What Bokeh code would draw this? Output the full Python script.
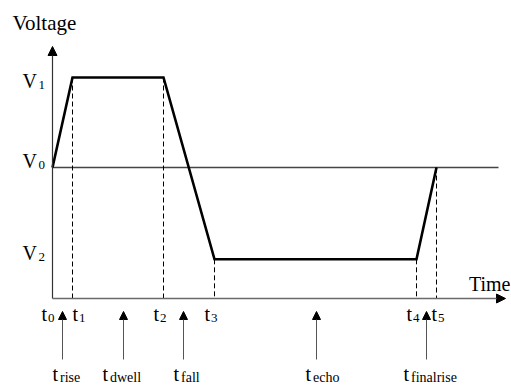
from bokeh.plotting import figure
from bokeh.models import Range1d, Arrow, NormalHead, ColumnDataSource
from bokeh.core.properties import value
from bokeh.embed import file_html
from bokeh.resources import INLINE

# ---------------- data ----------------
time_subs = ["0", "1", "2", "3", "4", "5"]
times = [0.0, 1.0, 5.55, 8.1, 18.2, 19.2]
V0, V1, V2 = 0.0, 1.0, -1.02
wave_v = [V0, V1, V1, V2, V2, V0]
level_subs = ["1", "0", "2"]
levels = [V1, V0, V2]
phase_subs = ["rise", "dwell", "fall", "echo", "finalrise"]
x_title = "Time"
y_title = "Voltage"

# ---------------- layout ----------------
W, H = 511, 388
XPX, YPX = 20.0, 90.0          # pixels per data unit
X0PX, Y0PX = 52.0, 167.0       # canvas position of (t0, V0)
TXT_FIX = 7.0                  # baseline correction for text rendering
FONT = value("Liberation Serif")

def X(t, dpx=0.0):
    return t + dpx / XPX

def Y(v, dpx=0.0):  # dpx positive = downwards on screen
    return v - dpx / YPX

AXIS_Y = Y(V0, 131)
AXIS_TOP = Y(V0, -121)
TIME_END = X(times[0], 453)
V0_END = X(times[0], 446)

p = figure(width=W, height=H, output_backend="svg", toolbar_location=None,
           x_range=Range1d(-X0PX / XPX, (W - X0PX) / XPX),
           y_range=Range1d(-(H - Y0PX) / YPX, Y0PX / YPX),
           x_axis_type=None, y_axis_type=None, min_border=0,
           outline_line_color=None)
p.grid.visible = False
p.background_fill_color = "white"
p.border_fill_color = "white"

# V0 reference line
p.line([times[0], V0_END], [V0, V0], line_color="#444444", line_width=1.3)

# dashed verticals
p.segment(x0=times[1:], y0=wave_v[1:], x1=times[1:], y1=[AXIS_Y] * 5,
          line_color="black", line_width=1, line_dash="5 3")

# axes with arrow heads
p.add_layout(Arrow(end=NormalHead(size=9, fill_color="black", line_color="black"),
                   x_start=times[0], y_start=AXIS_Y, x_end=times[0], y_end=AXIS_TOP,
                   line_color="#333333", line_width=1.2))
p.add_layout(Arrow(end=NormalHead(size=9, fill_color="black", line_color="black"),
                   x_start=times[0], y_start=AXIS_Y, x_end=TIME_END, y_end=AXIS_Y,
                   line_color="#6a6a6a", line_width=1.6))

# waveform
p.line(times, wave_v, line_color="black", line_width=2.6, line_join="miter")

# phase arrows
arrow_dx = [0, 5.5, -5.5, 1, 0]
phase_x = [X((times[i] + times[i + 1]) / 2, arrow_dx[i]) for i in range(5)]
for px in phase_x:
    p.add_layout(Arrow(end=NormalHead(size=8, fill_color="black", line_color="black"),
                       x_start=px, y_start=Y(AXIS_Y, 61), x_end=px, y_end=Y(AXIS_Y, 13),
                       line_color="#555555", line_width=1))

def txt(xs, ys, texts, size, align="left"):
    ys = [Y(y, -TXT_FIX) for y in ys]
    src = ColumnDataSource(dict(x=xs, y=ys, text=texts))
    p.text(x="x", y="y", text="text", source=src, text_font=FONT,
           text_font_size=value(size), text_align=align,
           text_baseline="alphabetic", text_color="black")

# titles
txt([X(times[0], -40)], [Y(V0, 29 - 167)], [y_title], "21px")
txt([X(times[0], 458)], [Y(AXIS_Y, -8)], [x_title], "20px", align="right")

# V labels
v_dy = [10, 0, 1]
txt([X(times[0], -30)] * 3, [Y(levels[i], v_dy[i]) for i in range(3)], ["V"] * 3, "20px")
txt([X(times[0], -14)] * 3, [Y(levels[i], v_dy[i] + 4) for i in range(3)], level_subs, "13px")

# t labels under axis
t_dx = [-11, 0, -10, -10, -10, -5]
txt([X(times[i], t_dx[i]) for i in range(6)], [Y(AXIS_Y, 22)] * 6, ["t"] * 6, "20px")
txt([X(times[i], t_dx[i] + 6.5) for i in range(6)], [Y(AXIS_Y, 26)] * 6, time_subs, "13px")

# phase labels
ph_dx = [-10, -21, -10, -11, -23]
txt([X(phase_x[i], ph_dx[i]) for i in range(5)], [Y(AXIS_Y, 82)] * 5, ["t"] * 5, "20px")
txt([X(phase_x[i], ph_dx[i] + 7.5) for i in range(5)], [Y(AXIS_Y, 86)] * 5, phase_subs, "14px")

open("out.html", "w").write(file_html(p, INLINE))
